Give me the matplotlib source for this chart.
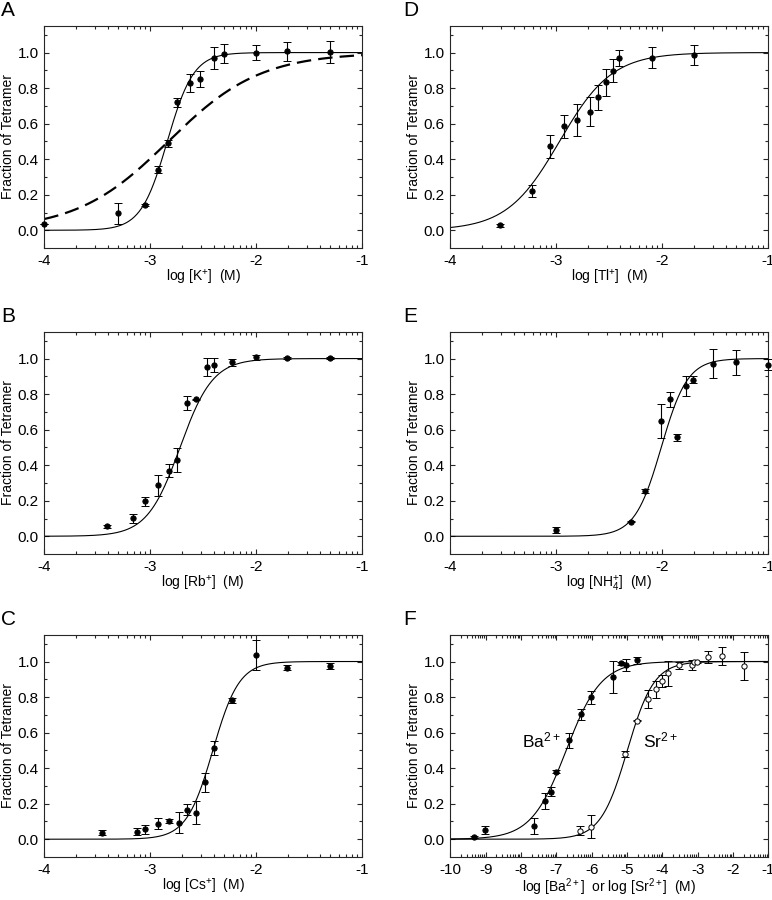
import numpy as np
import matplotlib
matplotlib.use("Agg")
import matplotlib.pyplot as plt
from matplotlib.ticker import FixedLocator, MultipleLocator

plt.rcParams.update({
    "font.family": ["Liberation Sans", "DejaVu Sans"],
    "font.size": 10,
    "mathtext.fontset": "custom",
    "mathtext.rm": "Liberation Sans",
    "mathtext.it": "Liberation Sans:italic",
    "mathtext.bf": "Liberation Sans:bold",
    "axes.linewidth": 0.8,
    "axes.edgecolor": "0.15",
})

# ---- data: log concentration, fraction, error ----
# A. K+
k_x = [-4.0, -3.305, -3.05, -2.925, -2.83, -2.75, -2.626, -2.53, -2.40, -2.305, -2.006, -1.71, -1.305]
k_y = [0.036, 0.096, 0.143, 0.34, 0.49, 0.72, 0.83, 0.85, 0.97, 0.994, 1.0, 1.007, 1.003]
k_e = [0.0, 0.058, 0.005, 0.02, 0.02, 0.025, 0.05, 0.045, 0.06, 0.055, 0.04, 0.055, 0.06]

# B. Rb+
rb_x = [-3.406, -3.16, -3.053, -2.925, -2.827, -2.752, -2.654, -2.569, -2.462, -2.403, -2.226, -2.006, -1.708, -1.305]
rb_y = [0.056, 0.101, 0.197, 0.287, 0.369, 0.429, 0.751, 0.77, 0.951, 0.966, 0.979, 1.007, 1.002, 1.002]
rb_e = [0.01, 0.025, 0.025, 0.06, 0.035, 0.065, 0.04, 0.005, 0.05, 0.04, 0.02, 0.015, 0.007, 0.007]

# C. Cs+
cs_x = [-3.456, -3.129, -3.047, -2.925, -2.827, -2.726, -2.654, -2.572, -2.484, -2.40, -2.226, -2.006, -1.708, -1.305]
cs_y = [0.036, 0.041, 0.056, 0.088, 0.103, 0.094, 0.167, 0.148, 0.32, 0.515, 0.781, 1.037, 0.966, 0.974]
cs_e = [0.015, 0.02, 0.025, 0.03, 0.01, 0.06, 0.03, 0.065, 0.055, 0.04, 0.015, 0.085, 0.015, 0.015]

# D. Tl+
tl_x = [-3.527, -3.231, -3.055, -2.932, -2.806, -2.686, -2.61, -2.535, -2.465, -2.405, -2.10, -1.70]
tl_y = [0.028, 0.221, 0.473, 0.585, 0.619, 0.668, 0.749, 0.833, 0.897, 0.97, 0.972, 0.987]
tl_e = [0.008, 0.035, 0.065, 0.065, 0.09, 0.08, 0.07, 0.075, 0.065, 0.045, 0.06, 0.055]

# E. NH4+
nh_x = [-3.004, -2.30, -2.16, -2.008, -1.926, -1.857, -1.775, -1.706, -1.523, -1.305, -1.0]
nh_y = [0.036, 0.082, 0.253, 0.648, 0.77, 0.556, 0.845, 0.882, 0.972, 0.978, 0.966]
nh_e = [0.015, 0.004, 0.012, 0.095, 0.04, 0.02, 0.055, 0.02, 0.08, 0.07, 0.03]

# F. Ba2+ (filled) and Sr2+ (open)
ba_x = [-9.33, -9.008, -7.618, -7.325, -7.146, -7.004, -6.635, -6.314, -6.02, -5.406, -5.18, -5.03, -4.716]
ba_y = [0.011, 0.052, 0.077, 0.217, 0.268, 0.38, 0.556, 0.702, 0.798, 0.912, 0.989, 0.981, 1.006]
ba_e = [0.005, 0.02, 0.045, 0.045, 0.025, 0.01, 0.04, 0.03, 0.035, 0.09, 0.01, 0.035, 0.02]
sr_x = [-6.342, -6.02, -5.047, -4.716, -4.40, -4.17, -4.02, -3.84, -3.535, -3.17, -3.09, -3.005, -2.70, -2.306, -1.70]
sr_y = [0.047, 0.069, 0.479, 0.668, 0.788, 0.843, 0.891, 0.934, 0.978, 0.981, 0.998, 0.998, 1.024, 1.032, 0.974]
sr_e = [0.025, 0.065, 0.015, 0.005, 0.05, 0.05, 0.035, 0.07, 0.02, 0.03, 0.005, 0.005, 0.035, 0.05, 0.08]

# Hill fits: (log K1/2, Hill coefficient)
FIT_K = (-2.84, 3.5)
FIT_K_DASH = (-2.83, 1.0)
FIT_RB = (-2.72, 2.8)
FIT_CS = (-2.41, 3.5)
FIT_TL = (-2.97, 1.75)
FIT_NH = (-2.01, 3.5)
FIT_BA = (-6.72, 0.88)
FIT_SR = (-4.99, 1.15)


def hill(x, fit):
    mid, n = fit
    return 1.0 / (1.0 + 10.0 ** (n * (mid - x)))


def setup(ax, xlo, xhi, xlabel):
    ax.set_xlim(xlo, xhi)
    ax.set_ylim(-0.1, 1.15)
    ax.xaxis.set_major_locator(MultipleLocator(1))
    minors = [d + np.log10(k) for d in range(xlo, xhi) for k in range(2, 10)]
    ax.xaxis.set_minor_locator(FixedLocator(minors))
    ax.yaxis.set_major_locator(FixedLocator([0, 0.2, 0.4, 0.6, 0.8, 1.0]))
    ax.yaxis.set_minor_locator(FixedLocator([0.1, 0.3, 0.5, 0.7, 0.9, 1.1]))
    ax.yaxis.set_major_formatter(plt.FuncFormatter(lambda v, p: f"{v:.1f}"))
    ax.xaxis.set_major_formatter(plt.FuncFormatter(lambda v, p: f"{v:.0f}"))
    ax.tick_params(which="both", direction="in", top=True, right=True,
                   color="0.15", width=0.8, labelsize=11, pad=4)
    ax.tick_params(which="major", length=3.5)
    ax.tick_params(which="minor", length=2.3)
    ax.set_xlabel(xlabel, fontsize=10, labelpad=0)
    ax.set_ylabel("Fraction of Tetramer", fontsize=10, labelpad=2)


def data(ax, x, y, e, open_marker=False):
    ax.errorbar(x, y, yerr=e, fmt="o", ms=3.8, color="black", ecolor="black",
                elinewidth=0.8, capsize=2.6, capthick=0.8,
                mfc="white" if open_marker else "black", mec="black", mew=0.7,
                clip_on=False, zorder=3)


def curve(ax, xlo, xhi, fit, **kw):
    xs = np.linspace(xlo, xhi, 400)
    ax.plot(xs, hill(xs, fit), color="black", **kw)


fig = plt.figure(figsize=(7.72, 9.0), dpi=100)
W, H = 0.4119, 0.2468
LX, RX = 0.0574, 0.5833
rows = [0.7244, 0.3844, 0.0478]

panels = [
    ("A", LX, rows[0]), ("B", LX, rows[1]), ("C", LX, rows[2]),
    ("D", RX, rows[0]), ("E", RX, rows[1]), ("F", RX, rows[2]),
]
axes = {}
for name, l, b in panels:
    ax = fig.add_axes([l, b, W, H])
    axes[name] = ax
    fig.text(l - 0.056 if l < 0.5 else l - 0.061, b + H + 0.028, name,
             fontsize=15, va="top", ha="left")

ax = axes["A"]
setup(ax, -4, -1, r"log [K$^{+}$]  (M)")
curve(ax, -4, -1, FIT_K, lw=0.8)
curve(ax, -4, -1, FIT_K_DASH, lw=1.6, dashes=(6.5, 3.2))
data(ax, k_x, k_y, k_e)

ax = axes["B"]
setup(ax, -4, -1, r"log [Rb$^{+}$]  (M)")
curve(ax, -4, -1, FIT_RB, lw=0.8)
data(ax, rb_x, rb_y, rb_e)

ax = axes["C"]
setup(ax, -4, -1, r"log [Cs$^{+}$]  (M)")
curve(ax, -4, -1, FIT_CS, lw=0.8)
data(ax, cs_x, cs_y, cs_e)

ax = axes["D"]
setup(ax, -4, -1, r"log [Tl$^{+}$]  (M)")
curve(ax, -4, -1, FIT_TL, lw=0.8)
data(ax, tl_x, tl_y, tl_e)

ax = axes["E"]
setup(ax, -4, -1, r"log [NH$_4^{+}$]  (M)")
curve(ax, -4, -1, FIT_NH, lw=0.8)
data(ax, nh_x, nh_y, nh_e)

ax = axes["F"]
setup(ax, -10, -1, r"log [Ba$^{2+}$]  or log [Sr$^{2+}$]  (M)")
curve(ax, -10, -1, FIT_BA, lw=0.8)
curve(ax, -10, -1, FIT_SR, lw=0.8)
data(ax, ba_x, ba_y, ba_e)
data(ax, sr_x, sr_y, sr_e, open_marker=True)
ax.text(-7.43, 0.556, r"Ba$^{2+}$", fontsize=12.5, ha="center", va="center")
ax.text(-4.05, 0.556, r"Sr$^{2+}$", fontsize=12.5, ha="center", va="center")

fig.savefig("out.png", dpi=100)
